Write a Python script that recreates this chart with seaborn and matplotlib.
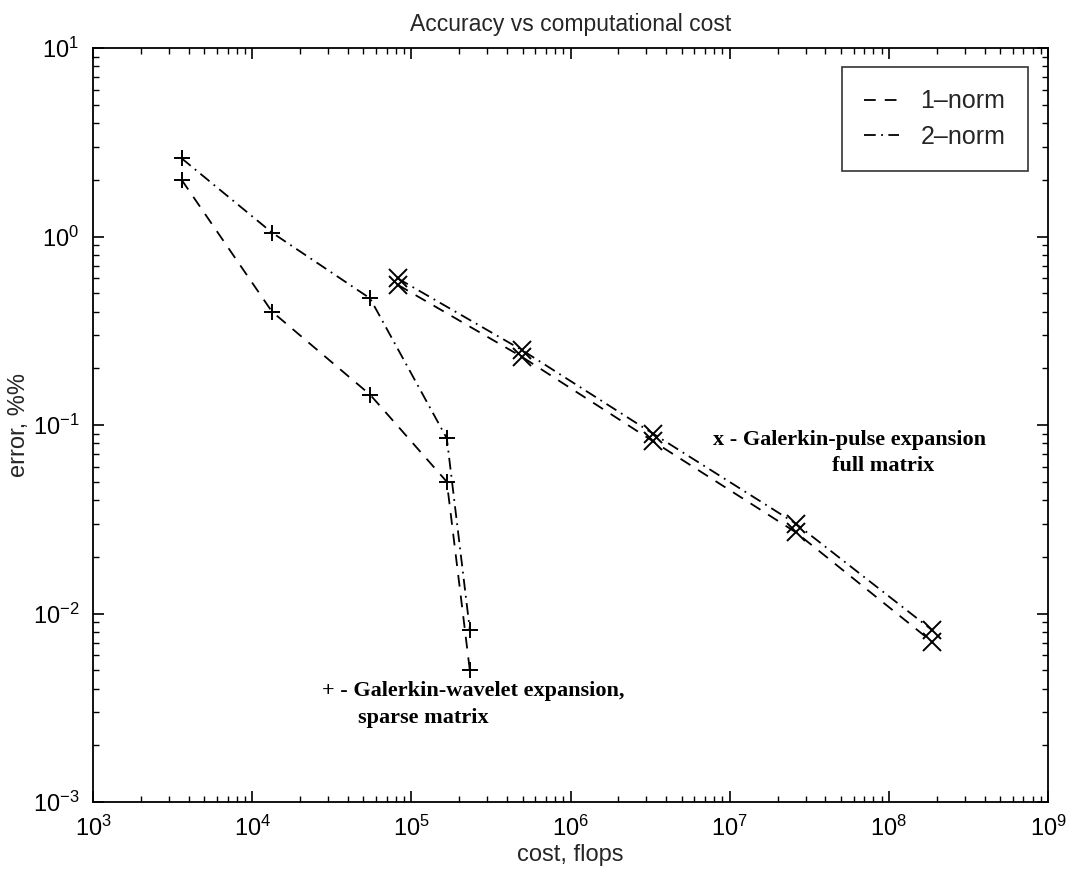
import numpy as np
import pandas as pd
import matplotlib
matplotlib.use("Agg")
import matplotlib.pyplot as plt
import seaborn as sns
from matplotlib.lines import Line2D
from matplotlib.ticker import LogLocator, NullFormatter

# wavelet expansion (sparse matrix), '+' markers
cost_wavelet = [3.6e3, 1.33e4, 5.5e4, 1.67e5, 2.33e5]
err_wavelet_1norm = [2.0, 0.40, 0.145, 0.050, 0.0050]
err_wavelet_2norm = [2.6, 1.05, 0.47, 0.085, 0.0082]

# pulse expansion (full matrix), 'x' markers
cost_pulse = [8.2e4, 4.95e5, 3.3e6, 2.6e7, 1.86e8]
err_pulse_1norm = [0.555, 0.23, 0.082, 0.027, 0.0071]
err_pulse_2norm = [0.60, 0.25, 0.090, 0.030, 0.0082]

legend_labels = ["1\u2013norm", "2\u2013norm"]

sns.set_style("ticks")
plt.rcParams['font.family'] = ['Liberation Sans', 'DejaVu Sans']
plt.rcParams['mathtext.fontset'] = 'custom'
plt.rcParams['mathtext.rm'] = 'Liberation Sans'
plt.rcParams['mathtext.it'] = 'Liberation Sans'

dash1 = (0, (6.5, 5))
dash2 = (0, (6.5, 3, 1, 3))

fig = plt.figure(figsize=(10.72, 8.75), dpi=100)
ax = fig.add_axes([0.0868, 0.0834, 0.8908, 0.8617])

wav = pd.DataFrame({"cost": cost_wavelet, "e1": err_wavelet_1norm, "e2": err_wavelet_2norm})
pul = pd.DataFrame({"cost": cost_pulse, "e1": err_pulse_1norm, "e2": err_pulse_2norm})

common = dict(color="black", linewidth=1.3, estimator=None, sort=False, ax=ax,
              markeredgecolor="black", markeredgewidth=1.4)
sns.lineplot(data=wav, x="cost", y="e1", linestyle=dash1, marker="+", markersize=12, **common)
sns.lineplot(data=wav, x="cost", y="e2", linestyle=dash2, marker="+", markersize=12, **common)
sns.lineplot(data=pul, x="cost", y="e1", linestyle=dash1, marker="x", markersize=13, **common)
sns.lineplot(data=pul, x="cost", y="e2", linestyle=dash2, marker="x", markersize=13, **common)

ax.set_xscale("log")
ax.set_yscale("log")
ax.set_xlim(1e3, 1e9)
ax.set_ylim(1e-3, 1e1)

ax.xaxis.set_major_locator(LogLocator(base=10, numticks=20))
ax.yaxis.set_major_locator(LogLocator(base=10, numticks=20))
ax.xaxis.set_minor_locator(LogLocator(base=10, subs=np.arange(2, 10), numticks=100))
ax.yaxis.set_minor_locator(LogLocator(base=10, subs=np.arange(2, 10), numticks=100))
ax.xaxis.set_minor_formatter(NullFormatter())
ax.yaxis.set_minor_formatter(NullFormatter())

ax.tick_params(which="both", direction="in", top=True, right=True, colors="black", labelsize=17)
ax.tick_params(which="major", length=8, width=1.2)
ax.tick_params(which="minor", length=4.5, width=1.0)
ax.tick_params(axis="x", pad=10)
ax.tick_params(axis="y", pad=10)
for s in ax.spines.values():
    s.set_visible(True)
    s.set_linewidth(1.3)
    s.set_color("black")

ax.set_title("Accuracy vs computational cost", fontsize=16.5, pad=12)
ax.set_xlabel("cost, flops", fontsize=17, labelpad=2)
ax.set_ylabel("error, %%", fontsize=17, labelpad=2)

serif = dict(family=["Liberation Serif", "DejaVu Serif"], fontweight="bold", fontsize=16, color="black")
ax.text(7.8e6, 0.083, "x - Galerkin-pulse expansion", va="center", ha="left", **serif)
ax.text(4.4e7, 0.0605, "full matrix", va="center", ha="left", **serif)
ax.text(2.75e4, 0.0039, "+ - Galerkin-wavelet expansion,", va="center", ha="left", **serif)
ax.text(4.6e4, 0.0028, "sparse matrix", va="center", ha="left", **serif)

handles = [Line2D([], [], color="black", linewidth=1.3, linestyle=dash1),
           Line2D([], [], color="black", linewidth=1.3, linestyle=dash2)]
leg = ax.legend(handles, legend_labels, loc="upper right", fontsize=18, frameon=True,
                fancybox=False, edgecolor="black", handlelength=1.4, handletextpad=0.85,
                borderpad=0.9, labelspacing=0.45, borderaxespad=0,
                bbox_to_anchor=(0.979, 0.975))
leg.get_frame().set_linewidth(1.2)

fig.savefig("out.png", dpi=100, facecolor="white")
